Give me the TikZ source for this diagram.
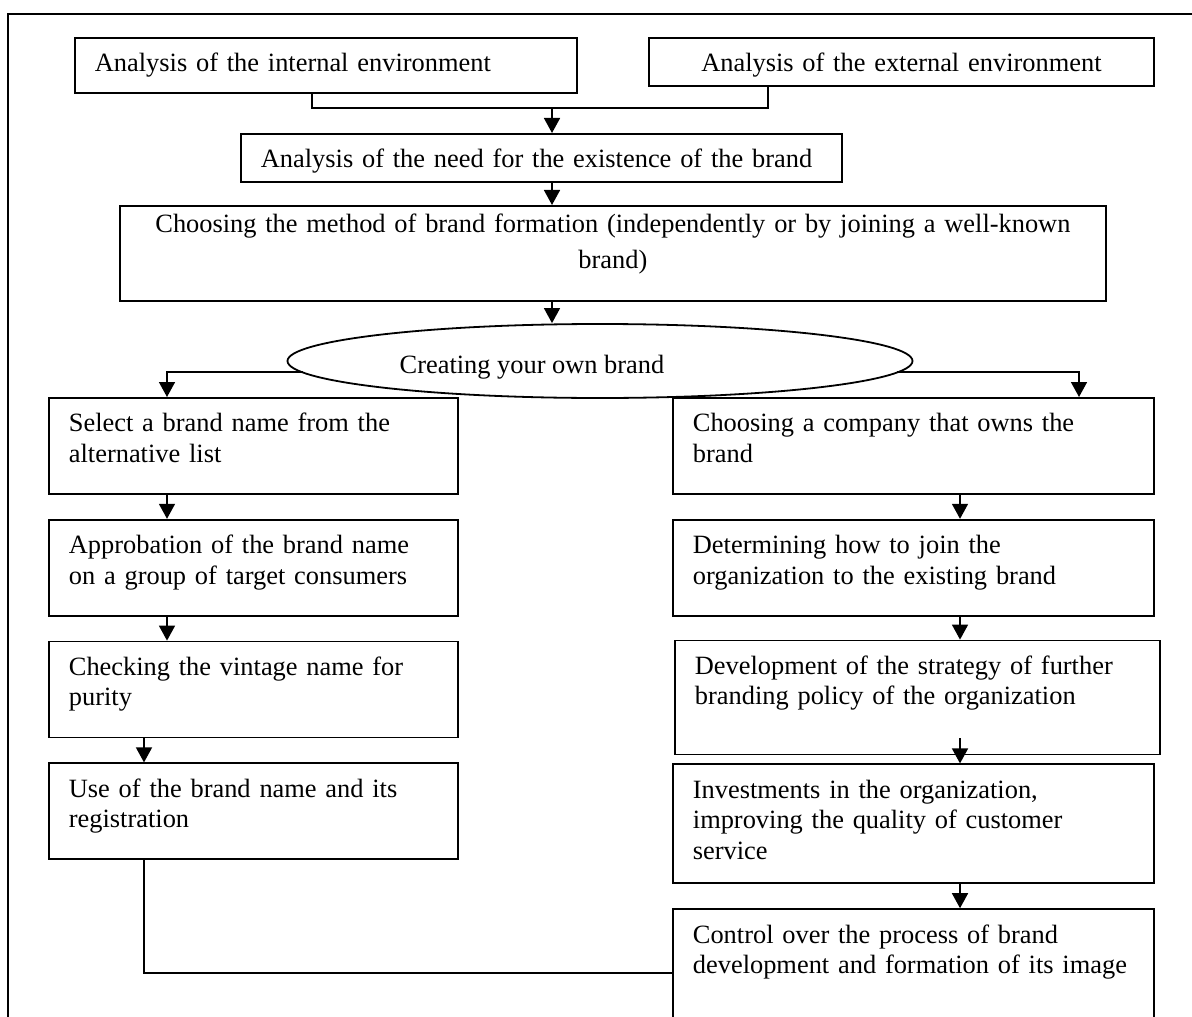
\documentclass[tikz,border=0pt]{standalone}
\usepackage{fontspec}
\setmainfont{Liberation Serif}
\usetikzlibrary{arrows.meta, positioning, shapes.geometric, calc}
\tikzset{
	stage/.style    ={rectangle, draw=black, line width=0.9pt, anchor=north west, align=left, inner xsep=10pt, inner ysep=7pt, text height=10pt, text depth=0pt},
	stagec/.style   ={stage, align=center},
	leftcol/.style  ={stage, text width=184.5pt, text depth=24pt},
	rightcol/.style ={stage, text width=220.5pt, text depth=24pt},
	branch/.style   ={ellipse, draw=black, line width=0.9pt, inner sep=0pt, minimum width=312.5pt, minimum height=37pt, text height=12pt, text depth=0pt},
	link/.style     ={line width=0.8pt},
	flowarrow/.style={-{Triangle[length=7.5pt, width=8pt]}, line width=0.8pt},
}

\begin{document}
\begin{tikzpicture}[x=0.5pt, y=-0.5pt, font=\fontsize{13.2}{15.2}\selectfont]
	\useasboundingbox (0,0) rectangle (1192,1016);
	% outer frame, cut off at the right and at the bottom
	\draw[line width=1pt] (8,1100) -- (8,14) -- (1250,14);

	% analysis stages
	\node[stage, text width=231pt, text depth=3.5pt] (intl) at (74,37) {Analysis of the internal environment};
	\node[stagec, text width=232.5pt] (extl) at (648,37) {Analysis of the external environment};
	\node[stage, text width=280.5pt] (need) at (240,133) {Analysis of the need for the existence of the brand};
	\node[stagec, text width=473pt, text height=6.5pt, text depth=27pt, font=\fontsize{13.2}{18}\selectfont] (method) at (119,205) {Choosing the method of brand formation (independently or by joining a well-known\\ brand)};
	\node[branch] (own) at (600,361) {Creating your own brand\hspace*{68pt}};

	% own brand
	\node[leftcol] (sel) at (48,397) {Select a brand name from the\\ alternative list};
	\node[leftcol, below=12pt of sel] (appr) {Approbation of the brand name\\ on a group of target consumers};
	\node[leftcol, below=12pt of appr] (check) {Checking the vintage name for\\ purity};
	\node[leftcol, below=12pt of check] (use) {Use of the brand name and its\\ registration};

	% joining a known brand
	\node[rightcol] (comp) at (672,397) {Choosing a company that owns the\\ brand};
	\node[rightcol, below=12pt of comp] (join) {Determining how to join the\\ organization to the existing brand};
	\node[rightcol, text width=222.5pt, text depth=33pt, below=11.5pt of join, xshift=2pt] (strat) {Development of the strategy of further\\ branding policy of the organization};
	\node[rightcol, text depth=35.5pt, below=4pt of strat, xshift=-2pt] (invest) {Investments in the organization,\\ improving the quality of customer\\ service};
	\node[rightcol, text depth=50pt, below=12pt of invest] (ctrl) {Control over the process of brand\\ development and formation of its image};

	\coordinate (spine) at (552,0);
	\coordinate (joinL) at (312,108);
	\coordinate (joinR) at (768,108);
	\coordinate (lbranch) at (167,372);
	\coordinate (rbranch) at (1079,372);
	\coordinate (lfeed) at (144,973);
	\coordinate (rspine) at (960,0);

	\draw[link] (intl.south -| joinL) -- (joinL) -- (joinR) -- (extl.south -| joinR);
	\draw[flowarrow] (spine |- joinL) -- (need.north -| spine);
	\draw[flowarrow] (need.south -| spine) -- (method.north -| spine);
	\draw[flowarrow] (method.south -| spine) -- (own.north -| spine);
	\draw[flowarrow] ([shift={(16,11)}]own.west) -- (lbranch) -- (sel.north -| lbranch);
	\draw[flowarrow] ([shift={(-16,11)}]own.east) -- (rbranch) -- (comp.north -| rbranch);

	\draw[flowarrow] (sel.south -| lbranch) -- (appr.north -| lbranch);
	\draw[flowarrow] (appr.south -| lbranch) -- (check.north -| lbranch);
	\draw[flowarrow] (check.south -| lfeed) -- (use.north -| lfeed);
	\draw[link] (use.south -| lfeed) -- (lfeed) -- (ctrl.west |- lfeed);

	\draw[flowarrow] (comp.south -| rspine) -- (join.north -| rspine);
	\draw[flowarrow] (join.south -| rspine) -- (strat.north -| rspine);
	\draw[flowarrow] ($(strat.south -| rspine)+(0,-17)$) -- (invest.north -| rspine);
	\draw[flowarrow] (invest.south -| rspine) -- (ctrl.north -| rspine);
\end{tikzpicture}
\end{document}
